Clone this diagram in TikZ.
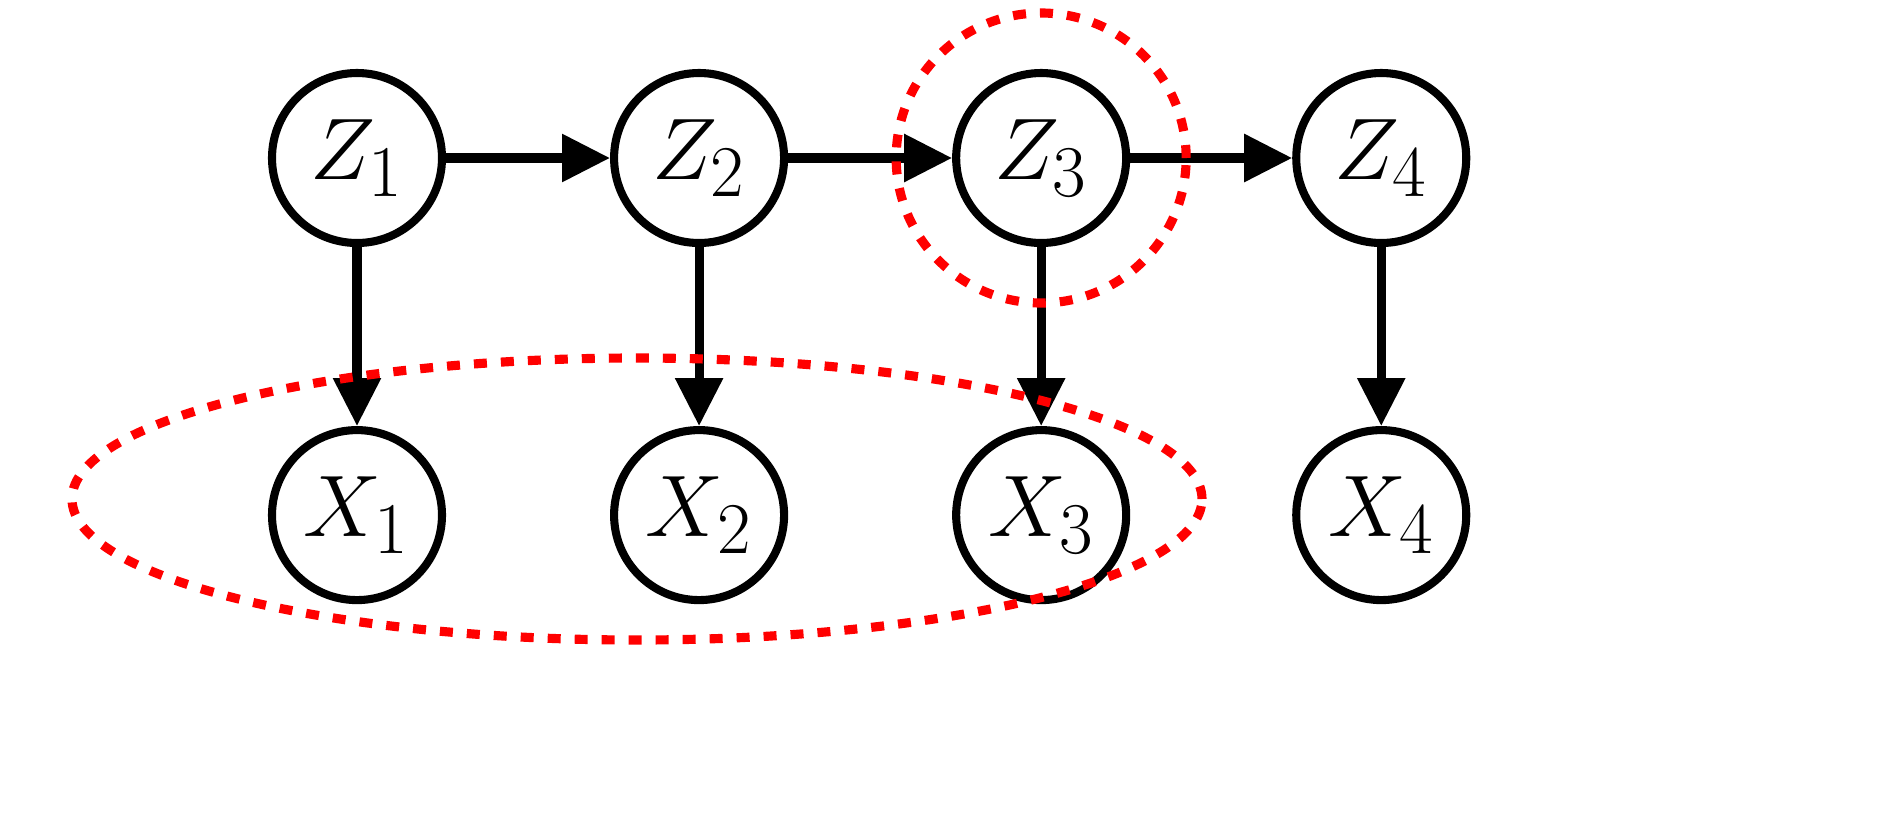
\documentclass[tikz,border=0pt]{standalone}
\usepackage{amsmath}
\usetikzlibrary{arrows.meta, positioning}
\begin{document}
\begin{tikzpicture}[x=1cm, y=1cm,
  var/.style = {draw, circle, line width=2.3pt, minimum size=1.7cm, inner sep=0pt, font=\fontsize{28}{32}\selectfont},
  edge/.style = {line width=2.6pt, -{Triangle[length=0.48cm, width=0.46cm]}},
  highlight/.style = {red, line width=2.6pt, dash pattern=on 0.13cm off 0.14cm}]
\useasboundingbox (0,0) rectangle (19.02,8.27);
\node[var] (z1) at (3.57,6.69) {$Z_1$};
\node[var, right = 1.64cm of z1] (z2) {$Z_2$};
\node[var, right = 1.64cm of z2] (z3) {$Z_3$};
\node[var, right = 1.62cm of z3] (z4) {$Z_4$};
\node[var, below = 1.79cm of z1] (x1) {$X_1$};
\node[var, below = 1.79cm of z2] (x2) {$X_2$};
\node[var, below = 1.79cm of z3] (x3) {$X_3$};
\node[var, below = 1.79cm of z4] (x4) {$X_4$};
\draw[edge] (z1) -- (z2);
\draw[edge] (z2) -- (z3);
\draw[edge] (z3) -- (z4);
\draw[edge] (z1) -- (x1);
\draw[edge] (z2) -- (x2);
\draw[edge] (z3) -- (x3);
\draw[edge] (z4) -- (x4);
% highlighted sets
\draw[highlight] (z3) circle (1.45);
\draw[highlight] (6.37,3.28) ellipse (5.65 and 1.41);
\end{tikzpicture}
\end{document}
